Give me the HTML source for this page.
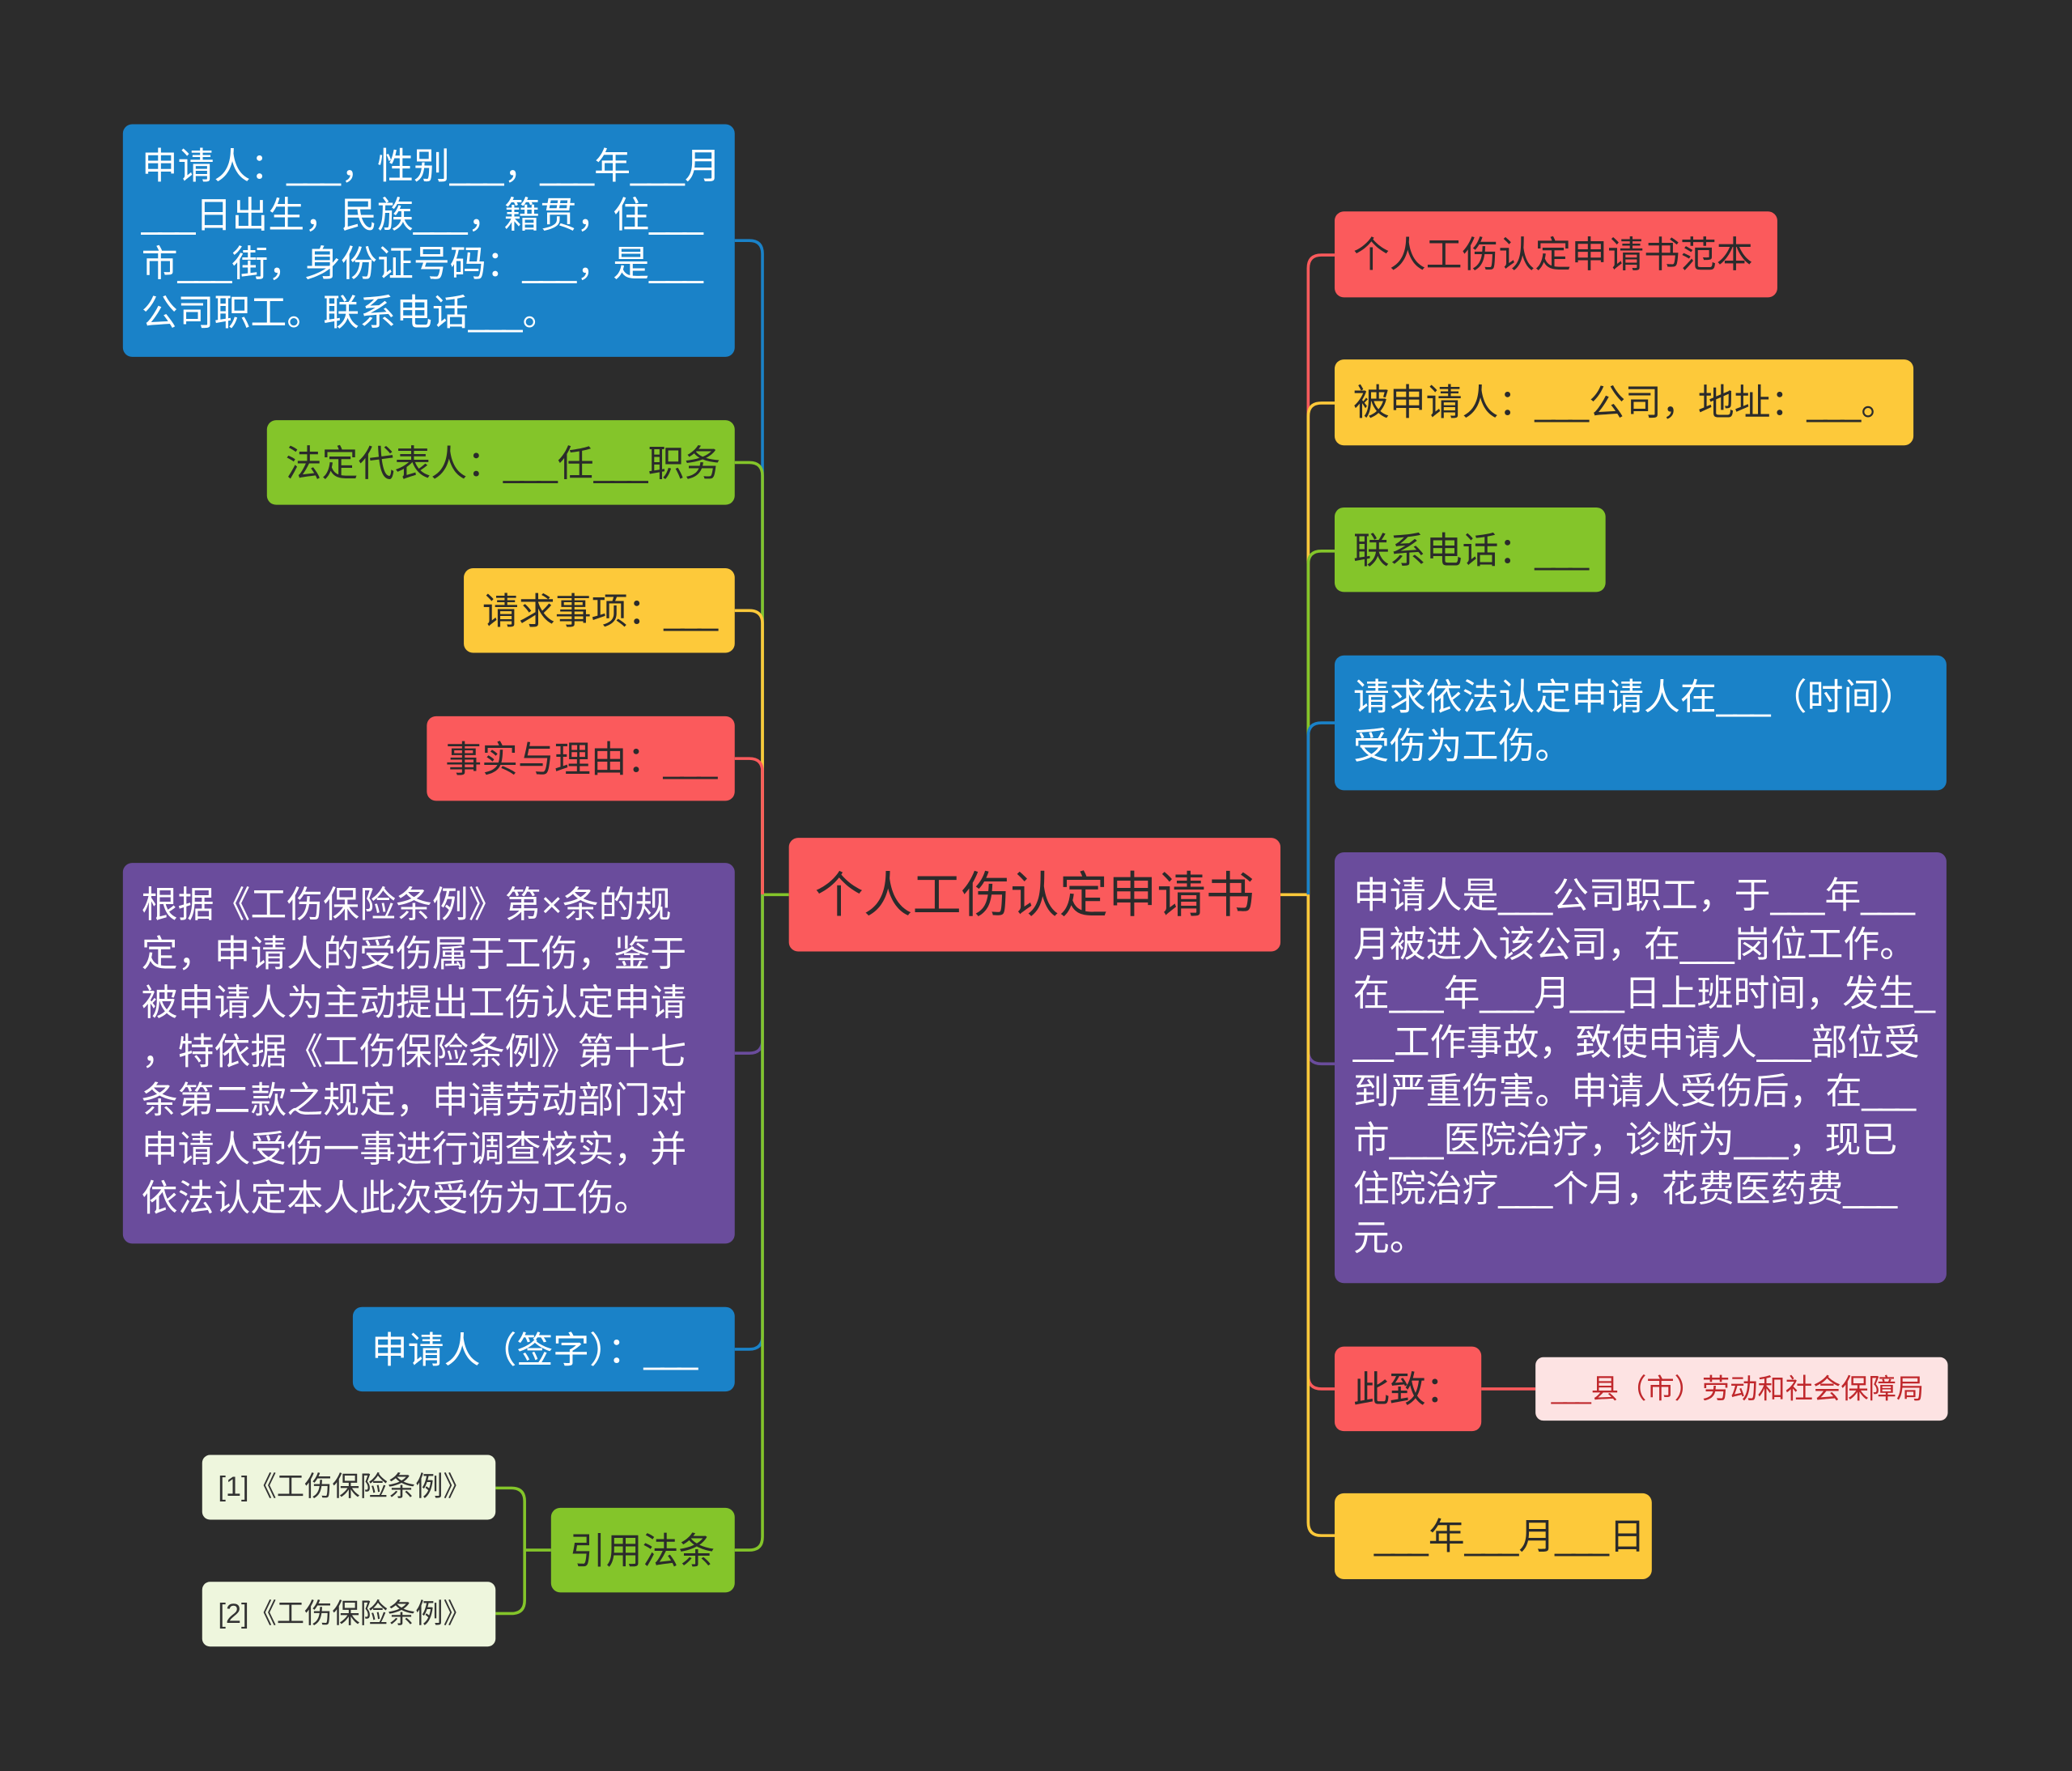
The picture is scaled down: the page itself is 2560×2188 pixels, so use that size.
<!DOCTYPE html>
<html><head><meta charset="utf-8">
<style>
html,body{margin:0;padding:0;background:#2c2c2c;}
body{width:2560px;height:2187px;overflow:hidden;}
#s{position:absolute;left:0;top:0;width:1568px;height:1340px;transform:scale(1.63265);transform-origin:0 0;font-family:"Liberation Sans","Noto Sans CJK SC",sans-serif;}
.n{position:absolute;box-sizing:border-box;border-radius:7px;font-size:27.5px;line-height:37px;padding:0 14px;display:flex;align-items:center;white-space:nowrap;}
.m{display:block;padding-top:12px;overflow:hidden;}
.n i{font-style:normal;letter-spacing:-2.5px;margin-right:2.5px}
.b{background:#1a82c8;color:#fff}
.g{background:#84c52a;color:#2b2b2b}
.y{background:#fdc93a;color:#2b2b2b}
.r{background:#fb5a5c;color:#2b2b2b}
.p{background:#6a4c9c;color:#fff}
.lg{background:#eef6dd;color:#333;font-size:21px;border-radius:6px}
svg{position:absolute;left:0;top:0}
</style></head><body><div id="s">
<svg width="1568" height="1340" fill="none" stroke-width="2.2">
<path d="M597 677 H577" stroke="#84c52a"/>
<path d="M969 677 H990" stroke="#fdc93a"/>
<path d="M577 677 V192 Q577 182 567 182 H556" stroke="#1a82c8"/>
<path d="M577 677 V360 Q577 350 567 350 H556" stroke="#84c52a"/>
<path d="M577 677 V472 Q577 462 567 462 H556" stroke="#fdc93a"/>
<path d="M577 677 V584 Q577 574 567 574 H556" stroke="#fb5a5c"/>
<path d="M577 677 V787 Q577 797 567 797 H556" stroke="#6a4c9c"/>
<path d="M577 677 V1011 Q577 1021 567 1021 H556" stroke="#1a82c8"/>
<path d="M577 677 V1163 Q577 1173 567 1173 H556" stroke="#84c52a"/>
<path d="M990 677 V203 Q990 193 1000 193 H1010" stroke="#fb5a5c"/>
<path d="M990 677 V315 Q990 305 1000 305 H1010" stroke="#fdc93a"/>
<path d="M990 677 V427 Q990 417 1000 417 H1010" stroke="#84c52a"/>
<path d="M990 677 V557 Q990 547 1000 547 H1010" stroke="#1a82c8"/>
<path d="M990 677 V795 Q990 805 1000 805 H1010" stroke="#6a4c9c"/>
<path d="M990 677 V1041 Q990 1051 1000 1051 H1010" stroke="#fb5a5c"/>
<path d="M990 677 V1152 Q990 1162 1000 1162 H1010" stroke="#fdc93a"/>
<path d="M417 1173 H397 M397 1173 V1136 Q397 1126 387 1126 H375 M397 1173 V1211 Q397 1221 387 1221 H375" stroke="#84c52a"/>
<path d="M1121 1051 H1162" stroke="#fb5a5c"/>
</svg>
<div class="n r" style="left:597px;top:634px;width:372px;height:86px;font-size:37px;justify-content:center">个人工伤认定申请书</div>
<div class="n b m" style="left:93px;top:94px;width:463px;height:176px;padding-top:13px">申请人：<i>___</i>，性别<i>___</i>，<i>___</i>年<i>___</i>月<br><i>___</i>日出生，民族<i>___</i>，籍贯，住<i>___</i><br>市<i>___</i>街，身份证号码：<i>___</i>，是<i>___</i><br>公司职工。联系电话<i>___</i>。</div>
<div class="n g" style="left:202px;top:318px;width:354px;height:64px">法定代表人：<i>___</i>任<i>___</i>职务</div>
<div class="n y" style="left:351px;top:430px;width:205px;height:64px">请求事项：<i>___</i></div>
<div class="n r" style="left:323px;top:542px;width:233px;height:64px">事实与理由：<i>___</i></div>
<div class="n p m" style="left:93px;top:653px;width:463px;height:288px;padding-top:13px">根据《工伤保险条例》第×条的规<br>定，申请人的受伤属于工伤，鉴于<br>被申请人为主动提出工伤认定申请<br>，特依据《工伤保险条例》第十七<br>条第二款之规定，申请劳动部门对<br>申请人受伤一事进行调查核实，并<br>依法认定本人此次受伤为工伤。</div>
<div class="n b" style="left:267px;top:989px;width:289px;height:64px">申请人（签字）：<i>___</i></div>
<div class="n g" style="left:417px;top:1141px;width:139px;height:64px">引用法条</div>
<div class="n lg" style="left:153px;top:1101px;width:222px;height:49px;padding:0 12px">[1]《工伤保险条例》</div>
<div class="n lg" style="left:153px;top:1197px;width:222px;height:49px;padding:0 12px">[2]《工伤保险条例》</div>
<div class="n r" style="left:1010px;top:160px;width:335px;height:65px">个人工伤认定申请书范本</div>
<div class="n y" style="left:1010px;top:272px;width:438px;height:65px">被申请人：<i>___</i>公司，地址：<i>___</i>。</div>
<div class="n g" style="left:1010px;top:384px;width:205px;height:64px">联系电话：<i>___</i></div>
<div class="n b m" style="left:1010px;top:496px;width:463px;height:102px;padding-top:13px">请求依法认定申请人在<i>___</i>（时间）<br>受伤为工伤。</div>
<div class="n p m" style="left:1010px;top:645px;width:463px;height:326px;padding-top:14px">申请人是<i>___</i>公司职工，于<i>___</i>年<i>___</i><br>月被进入该公司，在<i>___</i>岗位工作。<br>在<i>___</i>年<i>___</i>月<i>___</i>日上班时间，发生_<br>__工作事故，致使申请人<i>___</i>部位受<br>到严重伤害。申请人受伤后，在<i>___</i><br>市<i>___</i>医院治疗，诊断为<i>___</i>，现已<br>住院治疗<i>___</i>个月，花费医药费<i>___</i><br>元。</div>
<div class="n r" style="left:1010px;top:1019px;width:111px;height:64px">此致：</div>
<div class="n" style="left:1162px;top:1027px;width:312px;height:48px;background:#fde3e3;color:#c0282c;font-size:21px;border-radius:6px;padding:0 12px"><i>___</i>县（市）劳动和社会保障局</div>
<div class="n y" style="left:1010px;top:1130px;width:240px;height:65px;padding-left:30px"><i>___</i>年<i>___</i>月<i>___</i>日</div>
</div></body></html>
